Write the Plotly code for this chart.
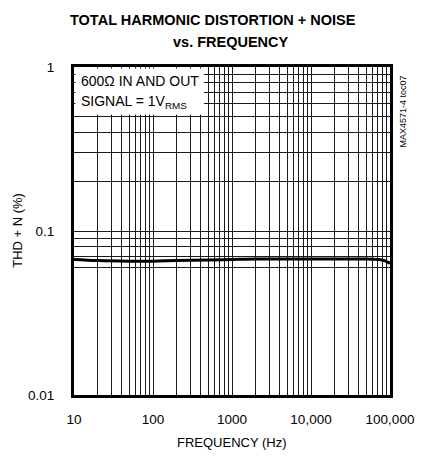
import plotly.graph_objects as go

freq_hz = [10, 20, 50, 100, 200, 500, 1000, 2000, 5000, 10000, 20000, 50000, 70000, 85000, 100000]
thd_n_pct = [0.067, 0.066, 0.0655, 0.0655, 0.066, 0.0665, 0.067, 0.0675, 0.0675, 0.0675, 0.0675, 0.0675, 0.067, 0.066, 0.0635]

x_grid = [m * 10 ** d for d in range(1, 5) for m in range(1, 10)] + [100000]
x_labels = {10: "10", 100: "100", 1000: "1000", 10000: "10,000", 100000: "100,000"}
x_text = [x_labels.get(v, "") for v in x_grid]

y_grid = [0.01, 0.06, 0.07, 0.08, 0.09, 0.1, 0.2, 0.3, 0.4, 0.5, 0.6, 0.7, 0.8, 0.9, 1]
y_labels = {0.01: "0.01", 0.1: "0.1", 1: "1"}
y_text = [y_labels.get(v, "") for v in y_grid]

FONT = "Liberation Sans, Arial, sans-serif"

fig = go.Figure()
fig.add_trace(go.Scatter(x=freq_hz, y=thd_n_pct, mode="lines",
                         line=dict(color="black", width=3, shape="spline"),
                         showlegend=False, hoverinfo="skip"))

W, H = 426, 457
PL, PR, PT, PB = 74, 400, 67, 395
L, T, R, B = PL, PT, W - PR, H - PB
pw, ph = PR - PL, PB - PT

def px_x(px):
    return (px - PL) / pw

def px_y(py):
    return (PB - py) / ph

fig.update_layout(
    width=W, height=H,
    margin=dict(l=L, r=R, t=T, b=B),
    paper_bgcolor="white", plot_bgcolor="white",
    font=dict(family=FONT, size=13, color="black"),
    xaxis=dict(type="log", range=[1, 5], tickvals=x_grid, ticktext=x_text,
               showgrid=True, gridcolor="#1a1a1a", gridwidth=1,
               showline=True, linecolor="black", linewidth=3, mirror=True,
               ticks="", ticklabelstandoff=10, zeroline=False,
               tickfont=dict(size=13.5)),
    yaxis=dict(type="log", range=[-2, 0], tickvals=y_grid, ticktext=y_text,
               showgrid=True, gridcolor="#1a1a1a", gridwidth=1,
               showline=True, linecolor="black", linewidth=3, mirror=True,
               ticks="", ticklabelstandoff=14, zeroline=False,
               tickfont=dict(size=13.5)),
    shapes=[dict(type="rect", xref="paper", yref="paper", layer="above",
                 x0=px_x(75.5), x1=px_x(208), y0=px_y(114.5), y1=px_y(68.5),
                 fillcolor="white", line=dict(width=0))],
    annotations=[
        dict(text="<b>TOTAL HARMONIC DISTORTION + NOISE</b>", xref="paper", yref="paper",
             x=px_x(217), y=px_y(20), showarrow=False, xanchor="center", yanchor="middle",
             font=dict(size=14.5)),
        dict(text="<b>vs. FREQUENCY</b>", xref="paper", yref="paper",
             x=px_x(236), y=px_y(42), showarrow=False, xanchor="center", yanchor="middle",
             font=dict(size=14.5)),
        dict(text="600Ω IN AND OUT", xref="paper", yref="paper",
             x=px_x(79), y=px_y(81), showarrow=False, xanchor="left", yanchor="middle",
             font=dict(size=14)),
        dict(text="SIGNAL = 1V<sub>RMS</sub>", xref="paper", yref="paper",
             x=px_x(79), y=px_y(102), showarrow=False, xanchor="left", yanchor="middle",
             font=dict(size=14)),
        dict(text="MAX4571-4 toc07", xref="paper", yref="paper", textangle=-90,
             x=px_x(413), y=px_y(112), showarrow=False, xanchor="center", yanchor="middle",
             font=dict(size=9)),
        dict(text="THD + N (%)", xref="paper", yref="paper", textangle=-90,
             x=px_x(15), y=px_y(230), showarrow=False, xanchor="center", yanchor="middle",
             font=dict(size=13)),
        dict(text="FREQUENCY (Hz)", xref="paper", yref="paper",
             x=px_x(237), y=px_y(443), showarrow=False, xanchor="center", yanchor="middle",
             font=dict(size=13)),
    ],
)

fig.write_html("out.html", config={"displayModeBar": False},
               post_script="document.body.style.margin='0';document.body.style.overflow='hidden';")
